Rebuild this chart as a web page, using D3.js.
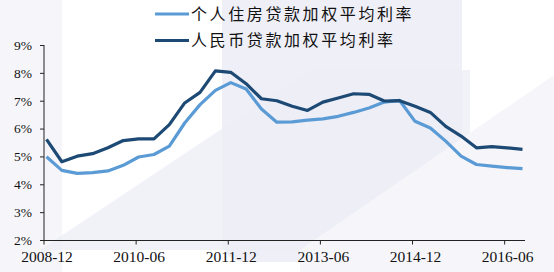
<!DOCTYPE html>
<html>
<head>
<meta charset="utf-8">
<script src="https://cdn.jsdelivr.net/npm/d3@7/dist/d3.min.js"></script>
<style>
html,body{margin:0;padding:0;background:#fff;}
svg{display:block;}
</style>
</head>
<body>
<svg id="chart" width="554" height="272"></svg>
<script>
const dates = ["2008-12","2009-03","2009-06","2009-09","2009-12","2010-03","2010-06","2010-09","2010-12",
"2011-03","2011-06","2011-09","2011-12","2012-03","2012-06","2012-09","2012-12","2013-03","2013-06","2013-09",
"2013-12","2014-03","2014-06","2014-09","2014-12","2015-03","2015-06","2015-09","2015-12","2016-03","2016-06","2016-09"];
const housingRate = [4.99,4.50,4.39,4.42,4.48,4.68,4.98,5.07,5.37,6.20,6.86,7.37,7.65,7.42,6.70,6.23,
6.24,6.30,6.35,6.44,6.58,6.74,6.95,7.01,6.26,6.02,5.55,5.01,4.71,4.65,4.60,4.56];
const rmbRate = [5.61,4.81,5.01,5.10,5.31,5.57,5.63,5.63,6.14,6.92,7.30,8.07,8.02,7.61,7.07,7.00,
6.80,6.65,6.95,7.10,7.25,7.23,6.99,7.00,6.80,6.58,6.08,5.73,5.31,5.35,5.31,5.25];
const tickLabels = ["2008-12","2010-06","2011-12","2013-06","2014-12","2016-06"];
const yTicks = [2,3,4,5,6,7,8,9];
const seriesNames = ["个人住房贷款加权平均利率","人民币贷款加权平均利率"];
const colors = ["#5B9BD5","#1D4A75"];

const svg = d3.select("#chart");

// faint watermark background
const bg = svg.append("g");
bg.append("rect").attr("x",0).attr("y",0).attr("width",554).attr("height",272).attr("fill","#ffffff");
bg.append("rect").attr("x",0).attr("y",0).attr("width",62).attr("height",272).attr("fill","#f6f6fa");
bg.append("rect").attr("x",222).attr("y",-30).attr("width",240).attr("height",292).attr("rx",22).attr("fill","#efeff7");
bg.append("path").attr("d","M40,250 L310,70 L470,70 L470,250 Z").attr("fill","#eeeef6").attr("opacity",0.8);
bg.append("path").attr("d","M300,250 L554,75 L554,272 L300,272 Z").attr("fill","#f6f6fa");

const x = d3.scalePoint().domain(dates).range([46.5, 522.5]);
const y = d3.scaleLinear().domain([2,9]).range([240,45]);

// y axis
const yAxis = d3.axisLeft(y).tickValues(yTicks).tickFormat(d => d + "%").tickSize(4).tickPadding(8);
const gy = svg.append("g").attr("transform","translate(44,0)").call(yAxis);
gy.select(".domain").attr("stroke","#222").attr("d","M0,45V240");
gy.selectAll(".tick line").attr("stroke","#222");
gy.selectAll("text").attr("font-family","'Liberation Serif', serif").attr("font-size","13.5px").attr("fill","#111");

// x axis (labels centred on the data points, tick marks on category edges)
const xAxis = d3.axisBottom(x).tickValues(tickLabels).tickSize(4).tickPadding(6);
const gx = svg.append("g").attr("transform","translate(0,240.5)").call(xAxis);
gx.select(".domain").attr("stroke","#222").attr("d","M44,0H525");
gx.selectAll(".tick line").attr("stroke","#222").attr("transform","translate(-3,0)");
gx.selectAll("text").attr("font-family","'Liberation Serif', serif").attr("font-size","15.5px").attr("fill","#111");

// lines
const line = d3.line().x((d,i) => x(dates[i])).y(d => y(d));
[housingRate, rmbRate].forEach((s, k) => {
  svg.append("path").datum(s).attr("d", line).attr("fill","none")
    .attr("stroke", colors[k]).attr("stroke-width",3.2).attr("stroke-linejoin","round");
});

// legend
const lg = svg.append("g");
seriesNames.forEach((n,k) => {
  const yy = 14 + k*26.5;
  lg.append("line").attr("x1",155).attr("x2",189).attr("y1",yy).attr("y2",yy)
    .attr("stroke",colors[k]).attr("stroke-width",3.2);
  lg.append("text").attr("x",191).attr("y",yy).attr("dy","0.36em")
    .attr("font-family","'Noto Sans CJK SC', sans-serif").attr("font-size","16px")
    .attr("letter-spacing","2.6px").attr("fill","#111").text(n);
});
</script>
</body>
</html>
